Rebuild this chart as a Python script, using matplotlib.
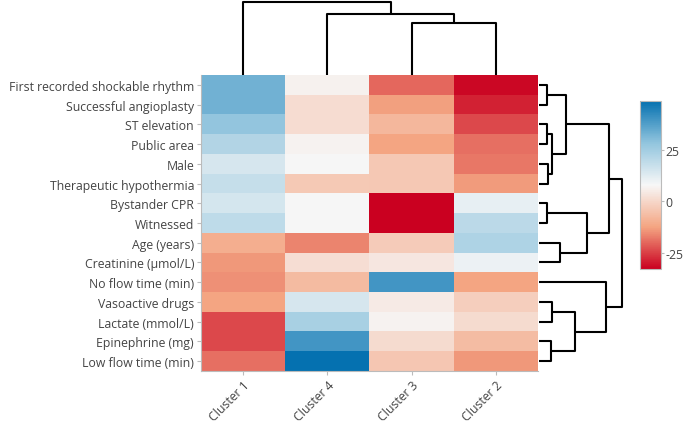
import numpy as np
import matplotlib
matplotlib.use("Agg")
import matplotlib.pyplot as plt
from matplotlib.colors import LinearSegmentedColormap, Normalize
import matplotlib.cm as cm

plt.rcParams['font.family'] = ['Open Sans', 'DejaVu Sans']
plt.rcParams['axes.unicode_minus'] = False

# row labels, top to bottom (dendrogram order)
features = ["First recorded shockable rhythm", "Successful angioplasty", "ST elevation",
            "Public area", "Male", "Therapeutic hypothermia", "Bystander CPR", "Witnessed",
            "Age (years)", "Creatinine (\u00b5mol/L)", "No flow time (min)", "Vasoactive drugs",
            "Lactate (mmol/L)", "Epinephrine (mg)", "Low flow time (min)"]
clusters = ["Cluster 1", "Cluster 4", "Cluster 3", "Cluster 2"]

cluster1 = [33, 33, 28, 22, 14.6, 18, 15, 19.5, -10, -14, -15, -12.5, -24, -24, -19]
cluster4 = [6.5, 1.5, 1.5, 7, 8, -3.5, 8, 8, -16.6, 1.6, -7, 14.7, 24, 40, 49]
cluster3 = [-20, -13, -8, -12.5, -3.7, -3.7, -33, -33, -2.6, 4, 40, 5, 7, 1, -4]
cluster2 = [-32, -28.6, -24, -19, -18, -13.7, 11, 20, 22.7, 10, -12.5, -2, 1, -6.5, -14]

# dendrogram merges: (child a, child b, height); leaves are 0..n-1
row_merges = [(0, 1, 7.7), (2, 3, 7.7), (4, 5, 9), (16, 17, 13.3), (15, 18, 27.3),
              (6, 7, 8.3), (8, 9, 21), (20, 21, 48.3), (19, 22, 70),
              (11, 12, 13.3), (13, 14, 12.3), (24, 25, 35.7), (10, 26, 66.7),
              (23, 27, 83.3)]
col_merges = [(2, 3, 52), (1, 4, 61), (0, 5, 73)]

cbar_ticks = [-25, 0, 25]

data = np.array([cluster1, cluster4, cluster3, cluster2]).T
cmap = LinearSegmentedColormap.from_list(
    "rdbu5", ["#ca0020", "#f4a582", "#f7f7f7", "#92c5de", "#0571b0"])
norm = Normalize(vmin=data.min(), vmax=data.max())

W, H = 685, 427
TXT = "#444444"
GRID = "#bbbbbb"


def px(l, t, w, h):
    return [l / W, 1 - (t + h) / H, w / W, h / H]


def dendro_lines(n, merges):
    pos = {i: float(i) for i in range(n)}
    hgt = {i: 0.0 for i in range(n)}
    segs = []
    for k, (a, b, h) in enumerate(merges):
        segs.append(([pos[a], pos[a], pos[b], pos[b]], [hgt[a], h, h, hgt[b]]))
        pos[n + k] = (pos[a] + pos[b]) / 2
        hgt[n + k] = h
    return segs


fig = plt.figure(figsize=(W / 100, H / 100), dpi=100)

# heatmap
ax = fig.add_axes(px(201, 76, 337, 296))
ax.imshow(data, cmap=cmap, norm=norm, aspect="auto", interpolation="nearest")
ax.set_yticks(range(len(features)))
ax.set_yticklabels(features)
ax.set_xticks(range(len(clusters)))
ax.set_xticklabels(clusters, rotation=45, ha="right", va="top", rotation_mode="anchor")
ax.tick_params(axis="both", colors=GRID, labelcolor=TXT, labelsize=8.8, length=3, width=0.8)
ax.tick_params(axis="x", pad=2)
ax.tick_params(axis="y", pad=2)
for s in ["top", "right"]:
    ax.spines[s].set_visible(False)
for s in ["left", "bottom"]:
    ax.spines[s].set_color(GRID)
    ax.spines[s].set_linewidth(0.8)

# top dendrogram (columns)
axt = fig.add_axes(px(201, 0, 337, 76))
for xs, ys in dendro_lines(len(clusters), col_merges):
    axt.plot(xs, ys, color="black", lw=1.5, solid_capstyle="butt")
axt.set_xlim(-0.5, len(clusters) - 0.5)
axt.set_ylim(0, 76)
axt.axis("off")

# right dendrogram (rows)
axr = fig.add_axes(px(539, 76, 92, 296))
for xs, ys in dendro_lines(len(features), row_merges):
    axr.plot(ys, xs, color="black", lw=1.5, solid_capstyle="butt")
axr.set_ylim(len(features) - 0.5, -0.5)
axr.set_xlim(0, 92)
axr.axis("off")

# colorbar
cax = fig.add_axes(px(640, 102, 21, 168))
cb = fig.colorbar(cm.ScalarMappable(norm=norm, cmap=cmap), cax=cax, ticks=cbar_ticks)
cb.outline.set_edgecolor(GRID)
cb.outline.set_linewidth(0.8)
cax.tick_params(colors=GRID, labelcolor=TXT, labelsize=8.8, length=2, width=0.8, pad=1.5)

fig.savefig("out.png", dpi=100)
